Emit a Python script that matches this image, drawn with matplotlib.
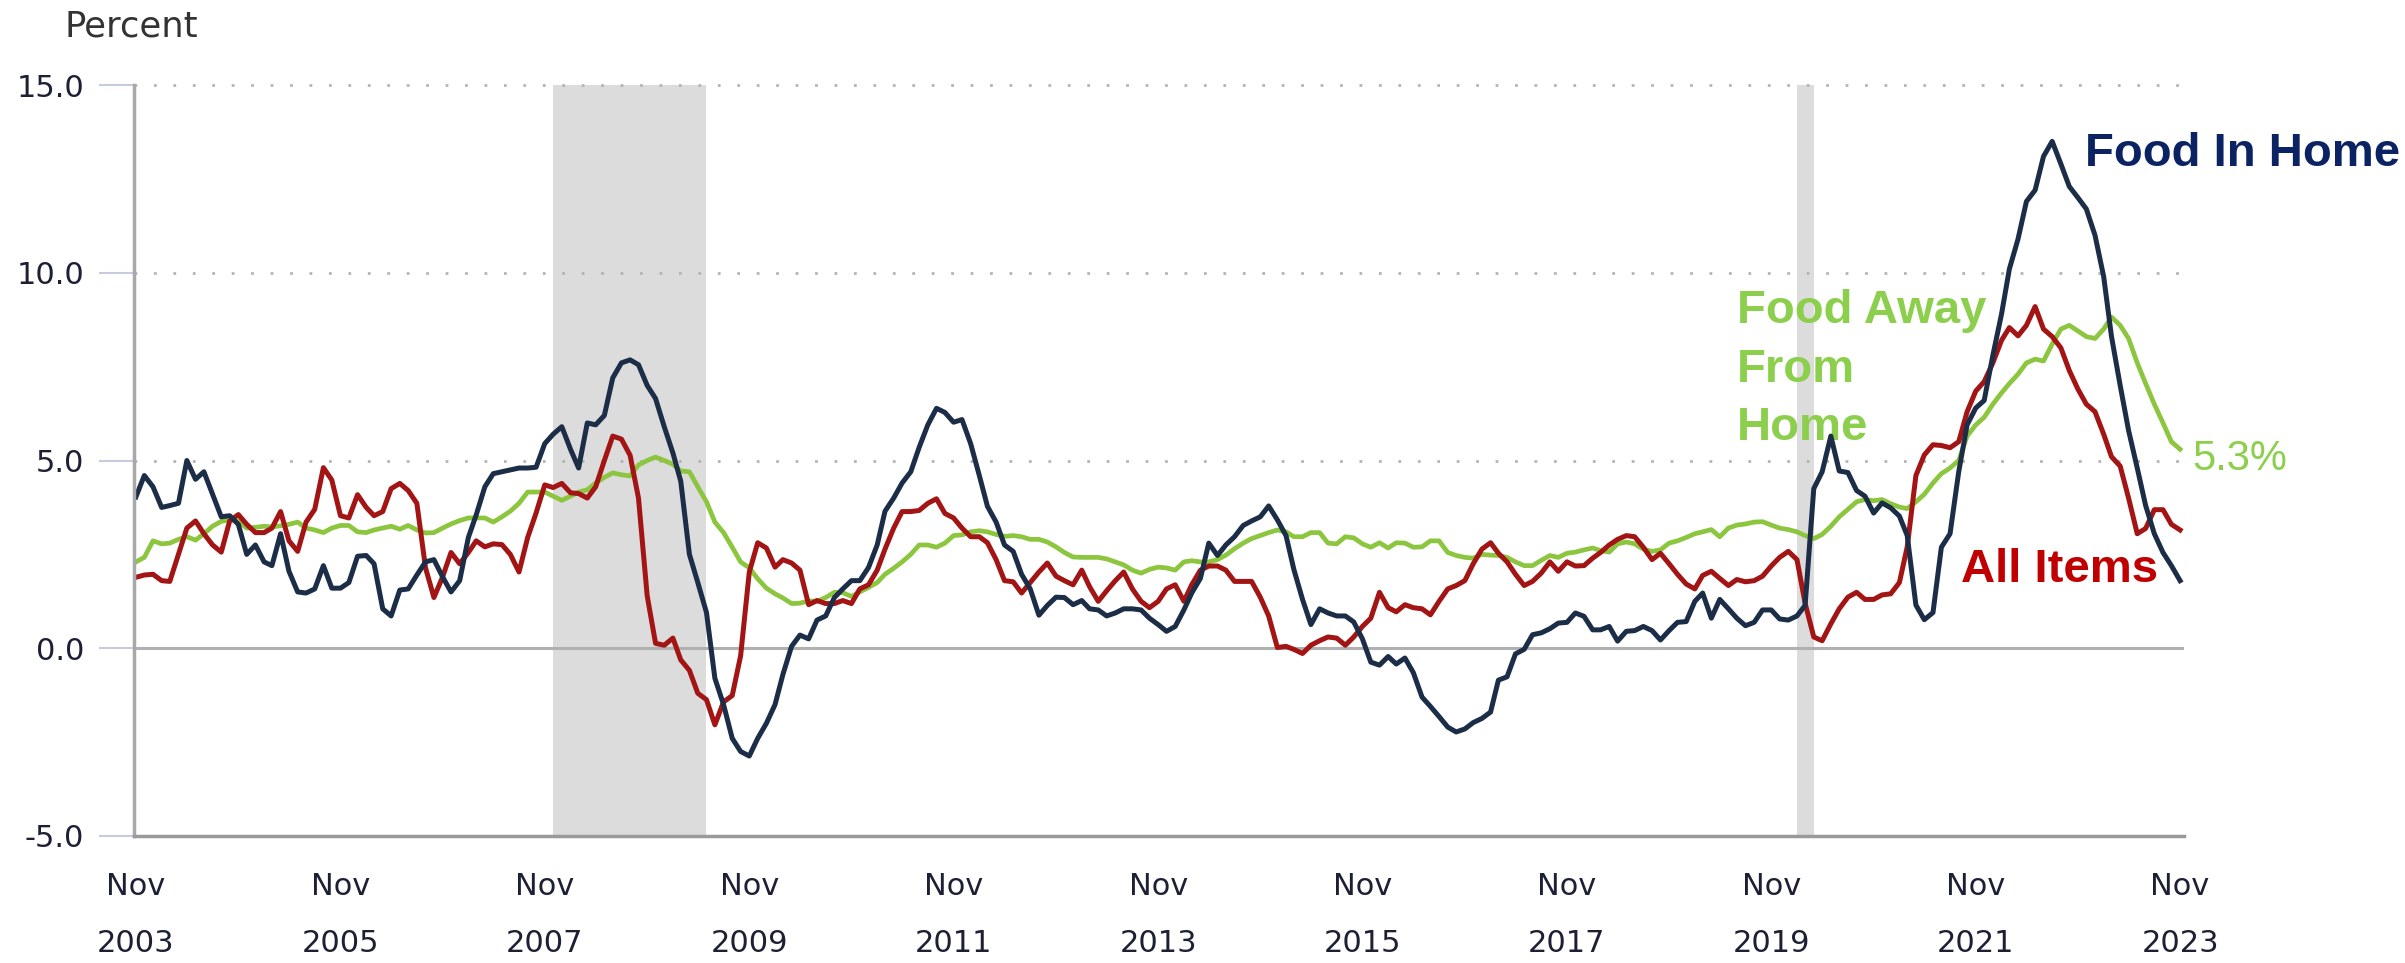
#!/usr/bin/env python3
# food_cpi.py

import matplotlib
matplotlib.use("Agg")
import matplotlib.pyplot as plt
import pandas as pd

# 12-month percent change, monthly, Nov 2003 .. Nov 2023
start = "2003-11-01"

food_home = [
    4.03, 4.6, 4.3, 3.75, 3.8, 3.86, 5.0, 4.5, 4.7, 4.1,
    3.5, 3.53, 3.3, 2.5, 2.75, 2.3, 2.2, 3.05, 2.05, 1.5,
    1.47, 1.58, 2.2, 1.6, 1.6, 1.75, 2.45, 2.47, 2.25, 1.05,
    0.86, 1.55, 1.58, 1.95, 2.3, 2.36, 1.9, 1.5, 1.8, 2.95,
    3.55, 4.3, 4.65, 4.7, 4.75, 4.8, 4.8, 4.82, 5.45, 5.7,
    5.9, 5.3, 4.8, 6.0, 5.95, 6.2, 7.2, 7.6, 7.68, 7.55,
    7.0, 6.65, 5.9, 5.2, 4.45, 2.5, 1.75, 0.95, -0.8, -1.5,
    -2.4, -2.75, -2.87, -2.4, -2.0, -1.5, -0.7, 0.05, 0.35, 0.25,
    0.75, 0.86, 1.35, 1.58, 1.8, 1.8, 2.15, 2.75, 3.65, 4.0,
    4.4, 4.7, 5.35, 5.95, 6.39, 6.28, 6.02, 6.09, 5.45, 4.6,
    3.78, 3.36, 2.75, 2.58, 1.97, 1.58, 0.88, 1.14, 1.36, 1.35,
    1.16, 1.27, 1.05, 1.02, 0.86, 0.94, 1.05, 1.05, 1.02, 0.8,
    0.63, 0.45, 0.58, 1.02, 1.47, 1.86, 2.8, 2.47, 2.75, 2.97,
    3.27, 3.39, 3.5, 3.79, 3.42, 3.0, 2.1, 1.3, 0.63, 1.05,
    0.94, 0.86, 0.86, 0.7, 0.25, -0.37, -0.45, -0.22, -0.42, -0.26,
    -0.65, -1.3, -1.55, -1.82, -2.1, -2.23, -2.15, -1.98, -1.87, -1.7,
    -0.85, -0.76, -0.15, -0.03, 0.36, 0.41, 0.52, 0.67, 0.69, 0.94,
    0.85, 0.49, 0.49, 0.58, 0.19, 0.45, 0.47, 0.58, 0.47, 0.22,
    0.47, 0.69, 0.71, 1.25, 1.47, 0.8, 1.3, 1.05, 0.8, 0.6,
    0.69, 1.02, 1.02, 0.78, 0.75, 0.86, 1.14, 4.25, 4.7, 5.65,
    4.72, 4.68, 4.2, 4.05, 3.6, 3.87, 3.74, 3.52, 3.0, 1.15,
    0.76, 0.95, 2.69, 3.05, 4.7, 5.95, 6.4, 6.6, 7.8, 8.9,
    10.1, 10.9, 11.9, 12.2, 13.1, 13.5, 12.9, 12.3, 12.0, 11.7,
    11.0, 9.9, 8.3, 7.0, 5.8, 4.8, 3.8, 3.05, 2.55, 2.2,
    1.8,
]

all_items = [
    1.89, 1.95, 1.97, 1.8, 1.78, 2.5, 3.2, 3.39, 3.05, 2.75,
    2.56, 3.39, 3.56, 3.3, 3.08, 3.08, 3.2, 3.64, 2.86, 2.58,
    3.36, 3.7, 4.81, 4.48, 3.53, 3.47, 4.09, 3.75, 3.53, 3.64,
    4.25, 4.39, 4.2, 3.86, 2.14, 1.35, 1.9, 2.55, 2.25, 2.55,
    2.86, 2.7, 2.78, 2.76, 2.5, 2.03, 2.95, 3.6, 4.35, 4.28,
    4.39, 4.14, 4.12, 4.0, 4.3, 5.0, 5.65, 5.57, 5.14, 4.0,
    1.4, 0.13, 0.08, 0.27, -0.31, -0.59, -1.2, -1.37, -2.04, -1.43,
    -1.26, -0.2, 2.03, 2.81, 2.67, 2.16, 2.36, 2.27, 2.08, 1.16,
    1.27, 1.19, 1.19, 1.27, 1.19, 1.58, 1.69, 2.08, 2.64, 3.2,
    3.64, 3.64, 3.67, 3.86, 3.98, 3.59, 3.47, 3.2, 2.97, 2.97,
    2.81, 2.36, 1.8, 1.77, 1.47, 1.75, 2.03, 2.27, 1.92, 1.8,
    1.69, 2.08, 1.64, 1.25, 1.53, 1.8, 2.03, 1.58, 1.25, 1.08,
    1.25, 1.58, 1.69, 1.25, 1.69, 2.08, 2.19, 2.19, 2.08, 1.78,
    1.78, 1.78, 1.36, 0.86, 0.02, 0.05, -0.03, -0.14, 0.08, 0.2,
    0.3, 0.27, 0.08, 0.3, 0.58, 0.8, 1.49, 1.08, 0.97, 1.16,
    1.08, 1.05, 0.89, 1.25, 1.58, 1.67, 1.8, 2.25, 2.64, 2.81,
    2.53, 2.3, 1.97, 1.67, 1.78, 2.0, 2.3, 2.05, 2.3, 2.19,
    2.2, 2.4, 2.55, 2.75, 2.9, 3.0, 2.97, 2.69, 2.36, 2.53,
    2.25, 1.97, 1.71, 1.58, 1.94, 2.05, 1.86, 1.67, 1.83, 1.77,
    1.8, 1.92, 2.19, 2.42, 2.58, 2.36, 1.2, 0.3, 0.2, 0.65,
    1.05, 1.36, 1.49, 1.3, 1.3, 1.42, 1.45, 1.75, 2.7, 4.6,
    5.15, 5.42, 5.4, 5.34, 5.5, 6.3, 6.85, 7.1, 7.6, 8.2,
    8.54, 8.32, 8.6, 9.1, 8.5, 8.3, 8.0, 7.4, 6.9, 6.5,
    6.3, 5.7, 5.1, 4.85, 4.0, 3.05, 3.19, 3.69, 3.69, 3.3,
    3.15,
]

food_away = [
    2.3, 2.42, 2.86, 2.78, 2.8, 2.9, 2.97, 2.88, 3.05, 3.25,
    3.38, 3.42, 3.39, 3.2, 3.22, 3.25, 3.23, 3.26, 3.3, 3.36,
    3.2, 3.15, 3.08, 3.2, 3.27, 3.27, 3.1, 3.08, 3.15, 3.2,
    3.25, 3.17, 3.27, 3.15, 3.07, 3.08, 3.2, 3.31, 3.4, 3.47,
    3.47, 3.47, 3.36, 3.5, 3.65, 3.86, 4.16, 4.16, 4.16, 4.05,
    3.94, 4.05, 4.16, 4.22, 4.4, 4.55, 4.67, 4.62, 4.59, 4.88,
    5.0, 5.09, 5.0, 4.9, 4.72, 4.7, 4.3, 3.9, 3.36, 3.08,
    2.69, 2.3, 2.14, 1.85, 1.6, 1.45, 1.34, 1.19, 1.2, 1.26,
    1.25, 1.35, 1.49, 1.48, 1.38, 1.5, 1.62, 1.75, 1.97, 2.13,
    2.3, 2.5, 2.75, 2.75, 2.69, 2.8, 3.0, 3.02, 3.1, 3.13,
    3.1, 3.03, 2.98, 3.0, 2.97, 2.9, 2.9, 2.83, 2.7, 2.55,
    2.43, 2.42, 2.42, 2.42, 2.38, 2.3, 2.22, 2.08, 2.0, 2.1,
    2.16, 2.14, 2.08, 2.3, 2.33, 2.3, 2.3, 2.36, 2.48, 2.65,
    2.8, 2.92, 3.0, 3.08, 3.15, 3.1, 2.97, 2.97, 3.08, 3.08,
    2.8, 2.78, 2.97, 2.94, 2.78, 2.69, 2.81, 2.67, 2.81, 2.8,
    2.69, 2.7, 2.86, 2.86, 2.55, 2.47, 2.42, 2.4, 2.5, 2.48,
    2.47, 2.42, 2.3, 2.2, 2.2, 2.34, 2.47, 2.42, 2.53, 2.56,
    2.62, 2.67, 2.6, 2.56, 2.78, 2.83, 2.78, 2.64, 2.58, 2.62,
    2.8, 2.86, 2.95, 3.05, 3.1, 3.16, 2.97, 3.2, 3.28, 3.31,
    3.36, 3.37, 3.28, 3.2, 3.16, 3.1, 3.0, 2.92, 3.03, 3.25,
    3.5, 3.7, 3.9, 3.96, 3.93, 3.96, 3.85, 3.76, 3.72, 3.9,
    4.1, 4.4, 4.65, 4.8, 5.0, 5.65, 5.95, 6.15, 6.5, 6.8,
    7.05, 7.3, 7.6, 7.7, 7.65, 8.1, 8.5, 8.6, 8.45, 8.3,
    8.25, 8.5, 8.82, 8.6, 8.25, 7.6, 7.05, 6.5, 6.0, 5.5,
    5.3,
]

recessions = [("2007-12-01", "2009-06-01"), ("2020-02-01", "2020-04-01")]
tick_years = list(range(2003, 2024, 2))
y_ticks = [-5.0, 0.0, 5.0, 10.0, 15.0]
last_away_label = "5.3%"

NAVY = "#1c2d48"
RED = "#a31515"
GREEN = "#8cc63f"
LABEL_FONT = ["Liberation Sans", "DejaVu Sans"]


def main():
    dates = pd.date_range(start, periods=len(food_home), freq="MS")

    fig = plt.figure(figsize=(24.05, 9.63), dpi=100)
    ax = fig.add_axes([0.0557, 0.1319, 0.8524, 0.7798])

    for a, b in recessions:
        ax.axvspan(pd.Timestamp(a), pd.Timestamp(b), color="#dcdcdc", lw=0, zorder=0)

    for y in y_ticks[2:]:
        ax.axhline(y, color="#b4b4b4", lw=2.0, ls=(0, (1, 6)), zorder=1, clip_on=False)
    ax.axhline(0, color="#b0b0b0", lw=2.2, zorder=1)

    ax.plot(dates, food_away, color=GREEN, lw=3.4, zorder=3)
    ax.plot(dates, all_items, color=RED, lw=3.6, zorder=4)
    ax.plot(dates, food_home, color=NAVY, lw=3.6, zorder=5)

    ax.set_ylim(-5, 15)
    ax.set_xlim(dates[0] - pd.Timedelta(days=7), dates[-1] + pd.Timedelta(days=14))

    ax.set_yticks(y_ticks)
    ax.set_yticklabels([f"{v:.1f}" for v in y_ticks])
    ax.set_xticks([pd.Timestamp(f"{y}-11-01") for y in tick_years])
    ax.set_xticklabels([f"Nov\n{y}" for y in tick_years])
    for lbl in ax.get_xticklabels():
        lbl.set_linespacing(2.22)

    ax.tick_params(axis="y", length=25, width=1.5, color="#c5cce0", pad=11,
                   labelsize=22, labelcolor="#1d2035")
    ax.tick_params(axis="x", length=0, pad=26, labelsize=22, labelcolor="#1d2035")

    for side in ("top", "right"):
        ax.spines[side].set_visible(False)
    ax.spines["left"].set_color("#a8a8a8")
    ax.spines["left"].set_linewidth(2.5)
    ax.spines["bottom"].set_color("#9a9a9a")
    ax.spines["bottom"].set_linewidth(2.5)
    ax.spines["left"].set_zorder(6)
    ax.spines["bottom"].set_zorder(6)

    fig.text(0.027, 0.9616, "Percent", fontsize=25.5, color="#333333", va="baseline")

    # series labels
    ax.text(0.9517, 0.892, "Food In Home", transform=ax.transAxes, family=LABEL_FONT,
            fontsize=34, fontweight="bold", color="#0b2263", va="baseline")
    ax.text(0.782, 0.728, "Food Away\nFrom\nHome", transform=ax.transAxes,
            family=LABEL_FONT, fontsize=34, fontweight="bold", color="#8ccf4d",
            va="top", linespacing=1.42)
    ax.text(0.891, 0.338, "All Items", transform=ax.transAxes, family=LABEL_FONT,
            fontsize=34, fontweight="bold", color="#c00000", va="baseline")
    ax.text(1.004, 0.487, last_away_label, transform=ax.transAxes, family=LABEL_FONT,
            fontsize=30, color="#8ccf4d", va="baseline")

    fig.savefig("out.png", dpi=100)


if __name__ == "__main__":
    main()
